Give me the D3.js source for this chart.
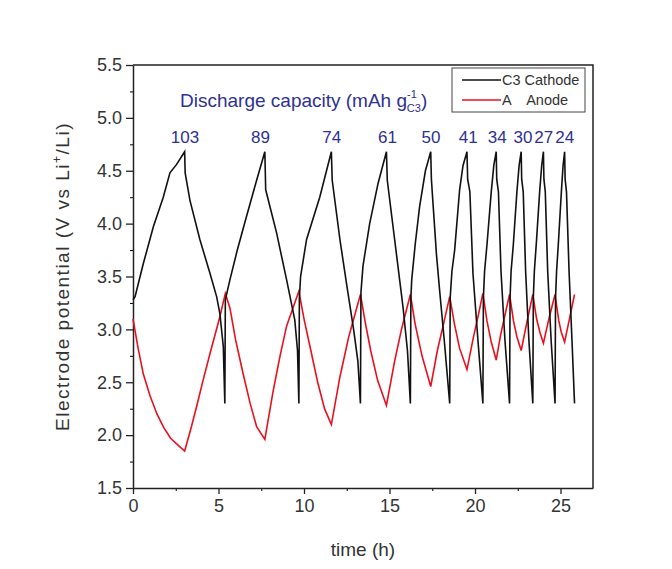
<!DOCTYPE html>
<html lang="en">
<head>
  <meta charset="UTF-8">
  <title>Electrode potential vs time</title>
  <script src="https://cdn.jsdelivr.net/npm/d3@7"></script>
  <style>
    body { margin: 0; background: #fff; }
    svg text { font-family: "Liberation Sans", Arial, sans-serif; }
  </style>
</head>
<body>
<script>
  // cathode (C3) potential, [time h, V]
  const cathode = [
    [0,3.28],[0.12,3.31],[0.6,3.62],[1.19,3.97],[1.77,4.25],[2.16,4.48],[2.55,4.56],[3.02,4.68],
    [3.05,4.48],[3.33,4.22],[3.91,3.85],[4.5,3.53],[4.89,3.31],[5.08,3.15],[5.28,2.84],[5.37,2.3],
    [5.4,3.28],[5.67,3.47],[6.1,3.75],[6.64,4.07],[7.23,4.41],[7.71,4.68],
    [7.76,4.32],[8.4,3.91],[8.98,3.47],[9.46,3.09],[9.62,2.8],[9.7,2.3],
    [9.73,3.3],[9.8,3.5],[10.15,3.85],[10.92,4.25],[11.6,4.68],
    [11.65,4.41],[12.1,3.85],[12.48,3.44],[12.9,3.0],[13.15,2.7],[13.3,2.3],
    [13.33,3.35],[13.45,3.6],[13.84,4.0],[14.33,4.38],[14.82,4.68],
    [14.87,4.41],[15.3,3.85],[15.79,3.21],[16.05,2.8],[16.22,2.3],
    [16.25,3.3],[16.3,3.47],[16.5,3.8],[16.76,4.16],[17.1,4.5],[17.41,4.68],
    [17.45,4.42],[17.54,4.2],[17.75,3.7],[17.93,3.37],[18.2,2.9],[18.52,2.3],
    [18.55,3.3],[18.65,3.55],[18.81,3.75],[19.1,4.32],[19.3,4.55],[19.53,4.68],
    [19.57,4.42],[19.7,4.3],[19.88,3.53],[20.17,2.9],[20.46,2.3],
    [20.49,3.3],[20.56,3.55],[20.7,3.8],[20.95,4.3],[21.1,4.55],[21.24,4.68],
    [21.27,4.42],[21.37,4.3],[21.52,3.55],[21.75,2.9],[22.02,2.3],
    [22.05,3.3],[22.11,3.55],[22.24,3.8],[22.45,4.3],[22.58,4.55],[22.7,4.68],
    [22.73,4.42],[22.82,4.3],[22.96,3.55],[23.15,2.9],[23.38,2.3],
    [23.41,3.3],[23.47,3.55],[23.58,3.8],[23.78,4.3],[23.9,4.55],[24.0,4.68],
    [24.03,4.42],[24.11,4.3],[24.25,3.55],[24.45,2.9],[24.68,2.3],
    [24.71,3.3],[24.77,3.55],[24.87,3.8],[25.05,4.3],[25.15,4.55],[25.24,4.68],
    [25.27,4.42],[25.35,4.3],[25.5,3.55],[25.67,2.9],[25.82,2.3]
  ];

  // anode (A) potential, [time h, V]
  const anode = [
    [0,3.1],[0.3,2.82],[0.6,2.58],[1.0,2.37],[1.4,2.2],[1.8,2.07],[2.2,1.97],[2.6,1.91],[3.02,1.85],
    [3.4,2.07],[3.72,2.27],[4.1,2.52],[4.5,2.77],[5.08,3.12],[5.4,3.34],
    [5.67,3.2],[6.0,2.9],[6.44,2.58],[6.85,2.3],[7.23,2.08],[7.71,1.96],
    [8.2,2.42],[8.6,2.75],[8.98,3.03],[9.7,3.36],
    [10.0,3.1],[10.4,2.8],[10.8,2.5],[11.2,2.25],[11.6,2.1],
    [12.1,2.55],[12.6,2.92],[13.3,3.33],
    [13.6,3.05],[13.9,2.8],[14.3,2.52],[14.82,2.28],
    [15.3,2.7],[15.7,3.0],[16.22,3.33],
    [16.5,3.05],[16.9,2.75],[17.41,2.46],
    [17.8,2.8],[18.2,3.08],[18.52,3.31],
    [18.8,3.05],[19.1,2.82],[19.53,2.62],
    [19.9,2.92],[20.2,3.14],[20.46,3.34],
    [20.7,3.08],[20.95,2.88],[21.24,2.71],
    [21.5,2.95],[21.8,3.17],[22.02,3.33],
    [22.25,3.08],[22.45,2.93],[22.7,2.8],
    [23.05,3.08],[23.38,3.33],
    [23.6,3.1],[23.8,2.97],[24.0,2.87],
    [24.35,3.12],[24.68,3.33],
    [24.9,3.08],[25.05,2.97],[25.24,2.88],
    [25.55,3.12],[25.82,3.33]
  ];

  // discharge capacity labels over each peak
  const capacities = [103, 89, 74, 61, 50, 41, 34, 30, 27, 24];
  const labelTimes = [3.04, 7.45, 11.62, 14.88, 17.43, 19.6, 21.3, 22.8, 24.02, 25.25];

  const xTicks = [0, 5, 10, 15, 20, 25];
  const yTicks = [1.5, 2.0, 2.5, 3.0, 3.5, 4.0, 4.5, 5.0, 5.5];

  const width = 672, height = 569;
  const margin = {left: 133, top: 65, right: 79, bottom: 81};

  const svg = d3.select("body").append("svg")
    .attr("width", width)
    .attr("height", height);

  const x = d3.scaleLinear().domain([0, 26.9]).range([margin.left, width - margin.right]);
  const y = d3.scaleLinear().domain([1.5, 5.5]).range([height - margin.bottom, margin.top]);

  // minor ticks
  svg.append("g")
    .attr("transform", `translate(0,${y(1.5)})`)
    .call(d3.axisBottom(x).tickValues(d3.range(2.5, 26.9, 5)).tickSize(3).tickFormat(""))
    .call(g => g.select(".domain").remove());
  svg.append("g")
    .attr("transform", `translate(${x(0)},0)`)
    .call(d3.axisLeft(y).tickValues(d3.range(1.75, 5.5, 0.5)).tickSize(3).tickFormat(""))
    .call(g => g.select(".domain").remove());

  const xAxis = svg.append("g")
    .attr("transform", `translate(0,${y(1.5)})`)
    .call(d3.axisBottom(x).tickValues(xTicks).tickSize(6).tickSizeOuter(0).tickPadding(5).tickFormat(d3.format("d")));
  const yAxis = svg.append("g")
    .attr("transform", `translate(${x(0)},0)`)
    .call(d3.axisLeft(y).tickValues(yTicks).tickSize(7).tickSizeOuter(0).tickPadding(4).tickFormat(d3.format(".1f")));

  [xAxis, yAxis].forEach(g => {
    g.selectAll("text").attr("font-size", 18).attr("fill", "#333");
    g.selectAll("line").attr("stroke", "#222").attr("stroke-width", 1.3);
    g.select(".domain").attr("stroke", "#222").attr("stroke-width", 1.5);
  });

  // top and right frame
  svg.append("path")
    .attr("d", `M${x(0)},${y(5.5)}H${x(26.9)}V${y(1.5)}`)
    .attr("fill", "none")
    .attr("stroke", "#222")
    .attr("stroke-width", 1.5);

  const line = d3.line().x(d => x(d[0])).y(d => y(d[1]));

  svg.append("path")
    .datum(anode)
    .attr("d", line)
    .attr("fill", "none")
    .attr("stroke", "#e8101e")
    .attr("stroke-width", 1.6);

  svg.append("path")
    .datum(cathode)
    .attr("d", line)
    .attr("fill", "none")
    .attr("stroke", "#111")
    .attr("stroke-width", 1.6);

  // axis titles
  svg.append("text")
    .attr("x", (x(0) + x(26.9)) / 2)
    .attr("y", 556)
    .attr("text-anchor", "middle")
    .attr("font-size", 19)
    .attr("fill", "#333")
    .text("time (h)");

  const yt = svg.append("text")
    .attr("transform", `translate(69,${(y(1.5) + y(5.5)) / 2}) rotate(-90)`)
    .attr("text-anchor", "middle")
    .attr("font-size", 19)
    .attr("letter-spacing", 1.5)
    .attr("fill", "#333");
  yt.append("tspan").text("Electrode potential (V vs Li");
  yt.append("tspan").attr("dy", -8).attr("font-size", 12).text("+");
  yt.append("tspan").attr("dy", 8).text("/Li)");

  // annotation
  const ann = svg.append("text")
    .attr("x", 180)
    .attr("y", 107)
    .attr("font-size", 19)
    .attr("fill", "#2e3192");
  ann.append("tspan").text("Discharge capacity (mAh g");
  ann.append("tspan").attr("dy", -9).attr("font-size", 11).text("-1");
  ann.append("tspan").attr("dx", -10).attr("dy", 14).attr("font-size", 11).text("C3");
  ann.append("tspan").attr("dy", -5).text(")");

  svg.append("g").selectAll("text")
    .data(capacities)
    .enter().append("text")
    .attr("x", (d, i) => x(labelTimes[i]))
    .attr("y", 143)
    .attr("text-anchor", "middle")
    .attr("font-size", 17)
    .attr("fill", "#2e3192")
    .text(d => d);

  // legend
  const legend = svg.append("g");
  legend.append("rect")
    .attr("x", 452).attr("y", 68)
    .attr("width", 133).attr("height", 44)
    .attr("fill", "#fff")
    .attr("stroke", "#444")
    .attr("stroke-width", 1);
  const items = [["C3 Cathode", "#111"], ["A    Anode", "#e8101e"]];
  items.forEach((it, i) => {
    legend.append("line")
      .attr("x1", 462).attr("x2", 501)
      .attr("y1", 80 + i * 20).attr("y2", 80 + i * 20)
      .attr("stroke", it[1]).attr("stroke-width", 1.6);
    legend.append("text")
      .attr("x", 502).attr("y", 85 + i * 20)
      .attr("font-size", 14.5)
      .attr("fill", "#333")
      .attr("xml:space", "preserve")
      .style("white-space", "pre")
      .text(it[0]);
  });
</script>
</body>
</html>
